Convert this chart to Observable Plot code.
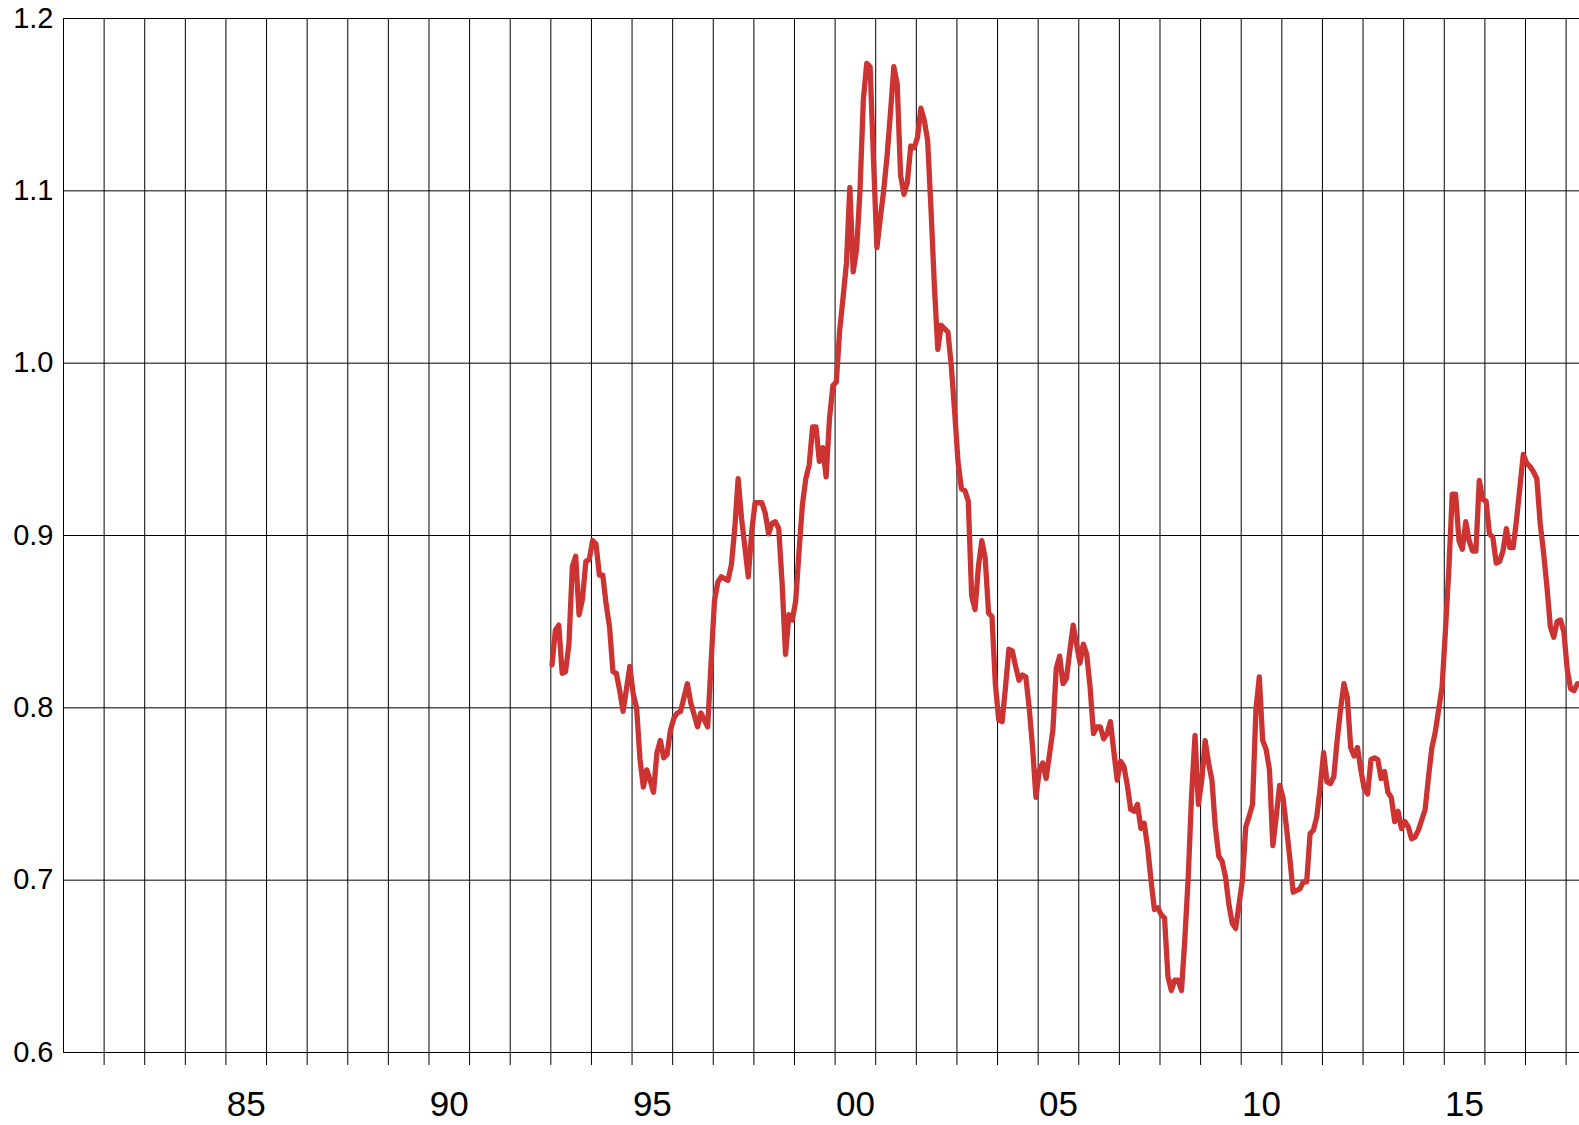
<!DOCTYPE html>
<html><head><meta charset="utf-8">
<script src="https://cdn.jsdelivr.net/npm/d3@7"></script>
<script src="https://cdn.jsdelivr.net/npm/@observablehq/plot@0.6"></script>
<style>html,body{margin:0;padding:0;background:#fff;} #chart svg{display:block}</style>
</head><body><div id="chart"></div>
<script>
// Monthly series, January 1993 to April 2018
const startYear = 1993;
const values = [
  0.825,0.845,0.848,0.820,0.821,0.837,0.882,0.888,0.854,0.863,0.885,0.886, // 1993
  0.897,0.895,0.877,0.877,0.860,0.847,0.821,0.820,0.810,0.798,0.811,0.824, // 1994
  0.808,0.800,0.770,0.754,0.764,0.758,0.751,0.774,0.781,0.771,0.773,0.787, // 1995
  0.794,0.797,0.798,0.806,0.814,0.803,0.796,0.789,0.797,0.793,0.789,0.826, // 1996
  0.862,0.873,0.876,0.875,0.874,0.883,0.904,0.933,0.910,0.893,0.876,0.902, // 1997
  0.919,0.919,0.919,0.913,0.901,0.907,0.908,0.904,0.872,0.831,0.854,0.851, // 1998
  0.862,0.891,0.918,0.933,0.941,0.963,0.963,0.943,0.951,0.934,0.968,0.987, // 1999
  0.989,1.019,1.038,1.058,1.102,1.053,1.066,1.100,1.153,1.174,1.172,1.118, // 2000
  1.067,1.084,1.100,1.120,1.145,1.172,1.162,1.109,1.098,1.105,1.126,1.125, // 2001
  1.131,1.148,1.141,1.129,1.089,1.044,1.008,1.022,1.020,1.018,0.998,0.971, // 2002
  0.942,0.927,0.926,0.920,0.865,0.857,0.882,0.897,0.887,0.855,0.853,0.814, // 2003
  0.793,0.792,0.812,0.834,0.833,0.824,0.816,0.819,0.818,0.800,0.777,0.748, // 2004
  0.764,0.768,0.759,0.773,0.787,0.823,0.830,0.814,0.817,0.833,0.848,0.837, // 2005
  0.826,0.837,0.831,0.812,0.785,0.789,0.789,0.782,0.785,0.792,0.775,0.758, // 2006
  0.769,0.766,0.755,0.741,0.740,0.744,0.730,0.733,0.719,0.700,0.683,0.684, // 2007
  0.680,0.678,0.644,0.636,0.642,0.642,0.636,0.666,0.702,0.750,0.784,0.744, // 2008
  0.758,0.781,0.768,0.758,0.731,0.714,0.711,0.702,0.686,0.675,0.672,0.686, // 2009
  0.700,0.731,0.737,0.744,0.799,0.818,0.781,0.776,0.764,0.720,0.737,0.755, // 2010
  0.748,0.731,0.713,0.693,0.694,0.695,0.699,0.699,0.727,0.729,0.737,0.754, // 2011
  0.774,0.757,0.756,0.760,0.781,0.799,0.814,0.806,0.777,0.772,0.777,0.764, // 2012
  0.753,0.750,0.770,0.771,0.770,0.759,0.763,0.751,0.748,0.734,0.740,0.730, // 2013
  0.734,0.731,0.724,0.725,0.729,0.735,0.741,0.760,0.777,0.786,0.799,0.812, // 2014
  0.845,0.880,0.924,0.924,0.897,0.892,0.908,0.897,0.891,0.891,0.932,0.921, // 2015
  0.920,0.901,0.899,0.884,0.885,0.891,0.904,0.893,0.893,0.909,0.928,0.947, // 2016
  0.942,0.940,0.937,0.933,0.907,0.890,0.870,0.847,0.841,0.850,0.851,0.844, // 2017
  0.822,0.811,0.810,0.814                                                  // 2018
];
const yTicks = [0.6, 0.7, 0.8, 0.9, 1.0, 1.1, 1.2];
const gridYears = d3.range(1981, 2019);
const tickYears = d3.range(1982, 2019);
const labelYears = [1985, 1990, 1995, 2000, 2005, 2010, 2015];

const data = values.map((v, i) => ({date: startYear + (i + 0.35) / 12, value: v}));

const plot = Plot.plot({
  width: 1579, height: 1125,
  marginLeft: 63, marginRight: 0, marginTop: 18, marginBottom: 73,
  style: {fontFamily: "'Liberation Sans', Arial, sans-serif", background: "#fff", color: "#000"},
  x: {domain: [1981, 2018.33], axis: null},
  y: {domain: [0.6, 1.2], axis: null},
  marks: [
    Plot.ruleY(yTicks, {stroke: "#000", strokeWidth: 1}),
    Plot.ruleX(gridYears, {y1: 0.6, y2: 1.2, stroke: "#000", strokeWidth: 1}),
    Plot.ruleX(tickYears, {y1: 0.6, y2: 0.6 - 13 / 1722, stroke: "#000", strokeWidth: 1}),
    Plot.line(data, {x: "date", y: "value", stroke: "#cc3333", strokeWidth: 5.3}),
    Plot.axisY({ticks: yTicks, label: null, tickSize: 0, tickPadding: 10, fontSize: 29, tickFormat: d3.format(".1f")}),
    Plot.axisX({ticks: labelYears.map(y => y + 0.5), label: null, tickSize: 0, tickPadding: 39, fontSize: 35,
      tickFormat: d => String(Math.floor(d) % 100).padStart(2, "0")})
  ]
});
document.getElementById("chart").appendChild(plot);
</script>
</body></html>
